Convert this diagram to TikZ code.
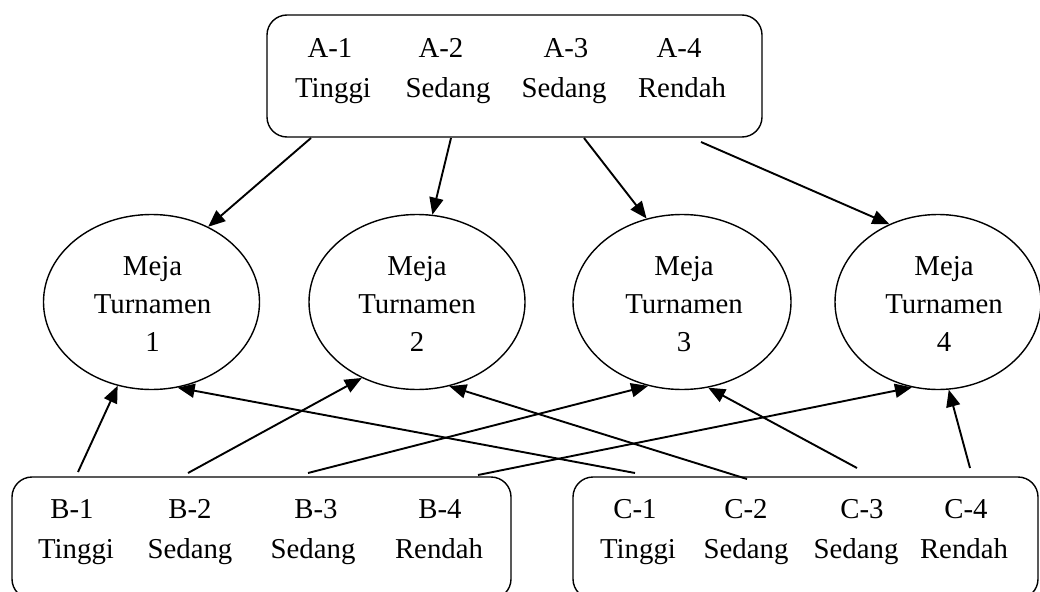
\documentclass[tikz,border=0pt]{standalone}
\usepackage{fontspec}
\setmainfont{Liberation Serif}
\usetikzlibrary{arrows.meta,shapes.geometric}
\begin{document}
\begin{tikzpicture}[x=1pt,y=-1pt,
  rbox/.style={draw, line width=1.4pt, rounded corners=20pt, inner sep=0pt, minimum height=122pt},
  ell/.style={draw, ellipse, line width=1.4pt, inner sep=0pt, minimum height=175pt},
  lbl/.style={anchor=base, inner sep=0pt, font=\fontsize{28.8}{34}\selectfont},
  arr/.style={line width=1.9pt, -{Triangle[length=17pt,width=14pt]}}]
\useasboundingbox (0,0) rectangle (1040,591);

% boxes
\node[rbox, minimum width=495pt] (A) at (514.5,76) {};
\node[rbox, minimum width=499pt] (B) at (261.5,538) {};
\node[rbox, minimum width=465pt] (C) at (805.5,538) {};

% box texts
\foreach \n/\x/\xx/\w in {1/330/333/Tinggi, 2/441/448/Sedang, 3/566/564/Sedang, 4/679/682/Rendah}{
  \node[lbl] (tA\n) at (\x,58) {A-\n};
  \node[lbl] (wA\n) at (\xx,98) {\w};
}
\foreach \n/\x/\xx/\w in {1/72/76/Tinggi, 2/190/190/Sedang, 3/316/313/Sedang, 4/440/439/Rendah}{
  \node[lbl] (tB\n) at (\x,518) {B-\n};
  \node[lbl] (wB\n) at (\xx,558) {\w};
}
\foreach \n/\x/\xx/\w in {1/635/638/Tinggi, 2/746/746/Sedang, 3/862/856/Sedang, 4/966/964/Rendah}{
  \node[lbl] (tC\n) at (\x,518) {C-\n};
  \node[lbl] (wC\n) at (\xx,558) {\w};
}

% ellipses
\node[ell, minimum width=216pt] (E1) at (151.5,302) {};
\node[ell, minimum width=216pt] (E2) at (417,302) {};
\node[ell, minimum width=218pt] (E3) at (682,302) {};
\node[ell, minimum width=206pt] (E4) at (938,302) {};
\foreach \n/\x in {1/152.5, 2/417, 3/684, 4/944}{
  \node[lbl] (m\n) at (\x,275) {Meja};
  \node[lbl] (u\n) at (\x,313) {Turnamen};
  \node[lbl] (k\n) at (\x,351) {\n};
}

% connector start points
\coordinate (a1s) at (311,138);
\coordinate (a2s) at (451,138);
\coordinate (a3s) at (584,138);
\coordinate (a4s) at (701,142);
\coordinate (b1s) at (78,472);
\coordinate (b2s) at (188,473);
\coordinate (b3s) at (308,473);
\coordinate (b4s) at (478,475);
\coordinate (c1s) at (635,473);
\coordinate (c2s) at (747,479);
\coordinate (c3s) at (857,468);
\coordinate (c4s) at (970,468);

% arrows
\draw[arr] (a1s) -- (E1.53);
\draw[arr] (a2s) -- (E2.80);
\draw[arr] (a3s) -- (E3.113);
\draw[arr] (a4s) -- (E4.122);
\draw[arr] (b1s) -- (E1.-112);
\draw[arr] (b2s) -- (E2.-126);
\draw[arr] (b3s) -- (E3.-112);
\draw[arr] (b4s) -- (E4.-107);
\draw[arr] (c1s) -- (E1.-73);
\draw[arr] (c2s) -- (E2.-69);
\draw[arr] (c3s) -- (E3.-73);
\draw[arr] (c4s) -- (E4.-83);
\end{tikzpicture}
\end{document}
